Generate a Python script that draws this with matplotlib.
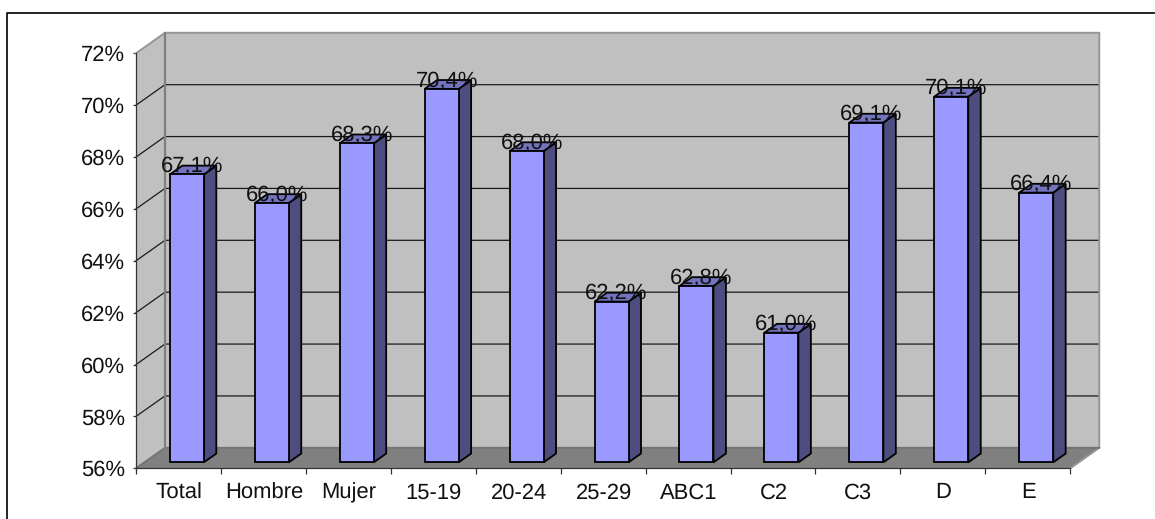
import matplotlib
matplotlib.use('Agg')  # no display needed
import matplotlib.pyplot as plt
from matplotlib.lines import Line2D
from matplotlib.patches import Polygon

categories = ['Total', 'Hombre', 'Mujer', '15-19', '20-24', '25-29',
              'ABC1', 'C2', 'C3', 'D', 'E']
values = [67.1, 66.0, 68.3, 70.4, 68.0, 62.2, 62.8, 61.0, 69.1, 70.1, 66.4]
y_ticks = [56, 58, 60, 62, 64, 66, 68, 70, 72]

W, H = 1155, 519
plt.rcParams['font.family'] = ['Liberation Sans', 'DejaVu Sans']
plt.rcParams['text.hinting'] = 'none'
plt.rcParams['text.hinting_factor'] = 1

# oblique 3D look: how far the back wall is shifted, in data units
DEPTH_X = 0.341
DEPTH_Y = 0.79
BAR_WIDTH = 0.40
BAR_FRONT = 0.29
BAR_BACK = 0.72
FONT = 15.6
LABEL_FONT = 15.9


def proj(x, y, d):
    return (x + d * DEPTH_X, y + d * DEPTH_Y)


def face(ax, pts, color, edge='none', lw=0, z=1):
    ax.add_patch(Polygon(pts, closed=True, facecolor=color, edgecolor=edge,
                         linewidth=lw, zorder=z, clip_on=False,
                         joinstyle='miter'))


fig = plt.figure(figsize=(W / 100, H / 100), dpi=100, facecolor='white')
ax = fig.add_axes([136 / W, 1 - 468.3 / H, 934.3 / W, 415 / H])
ax.set_xlim(0, len(categories))
ax.set_ylim(y_ticks[0], y_ticks[-1])
ax.patch.set_visible(False)

lo, hi = y_ticks[0], y_ticks[-1]
n = len(categories)

# walls and floor
face(ax, [proj(0, lo, 1), proj(n, lo, 1), proj(n, hi, 1), proj(0, hi, 1)], '#c0c0c0', z=1)
face(ax, [proj(0, lo, 0), proj(0, lo, 1), proj(0, hi, 1), proj(0, hi, 0)], '#c0c0c0', z=1)
face(ax, [proj(0, lo, 0), proj(n, lo, 0), proj(n, lo, 1), proj(0, lo, 1)], '#808080', z=1)

# grid on side wall and back wall
for v in y_ticks[1:-1]:
    xs, ys = zip(proj(0, v, 0), proj(0, v, 1), proj(n, v, 1))
    ax.plot(xs, ys, color='#1a1a1a', lw=0.9, zorder=2, clip_on=False)

# wall outlines
xs, ys = zip(proj(0, hi, 0), proj(0, hi, 1), proj(n, hi, 1), proj(n, lo, 1), proj(n, lo, 0))
ax.plot(xs, ys, color='#969696', lw=1.4, zorder=3, clip_on=False)
xs, ys = zip(proj(0, lo, 0), proj(0, lo, 1), proj(n, lo, 1))
ax.plot(xs, ys, color='#747474', lw=1.4, zorder=3, clip_on=False)
xs, ys = zip(proj(0, lo, 1), proj(0, hi, 1))
ax.plot(xs, ys, color='#808080', lw=1.6, zorder=3, clip_on=False)

# bars
for i, v in enumerate(values):
    left = i + 0.5 - BAR_WIDTH / 2
    right = i + 0.5 + BAR_WIDTH / 2
    z = 4 + i * 0.01
    face(ax, [proj(right, lo, BAR_FRONT), proj(right, lo, BAR_BACK),
              proj(right, v, BAR_BACK), proj(right, v, BAR_FRONT)],
         '#4d4d80', 'black', 1.3, z)
    face(ax, [proj(left, v, BAR_FRONT), proj(right, v, BAR_FRONT),
              proj(right, v, BAR_BACK), proj(left, v, BAR_BACK)],
         '#7373bf', 'black', 1.3, z)
    face(ax, [proj(left, lo, BAR_FRONT), proj(right, lo, BAR_FRONT),
              proj(right, v, BAR_FRONT), proj(left, v, BAR_FRONT)],
         '#9999ff', 'black', 1.3, z)

# value labels sit across the top of each bar
for i, v in enumerate(values):
    ax.annotate(f'{v:.1f}'.replace('.', ',') + '%', xy=proj(i + 0.5, v, BAR_FRONT),
                xytext=(3.6, 5.6), textcoords='offset points', ha='center', va='center',
                fontsize=LABEL_FONT, color='#111111', zorder=6, annotation_clip=False)

# axes
ax.set_yticks(y_ticks)
ax.set_yticklabels([f'{t}%' for t in y_ticks], fontsize=FONT, color='#111111')
ax.set_xticks(range(n + 1))
ax.set_xticklabels([''] * (n + 1))
ax.tick_params(axis='y', length=2.5, width=0.9, color='#333333', pad=5.5)
ax.tick_params(axis='x', length=4.5, width=0.9, color='#333333')
for i, name in enumerate(categories):
    ax.annotate(name, xy=(i + 0.5, lo), xytext=(0.3, -17.5), textcoords='offset points',
                ha='center', va='center', fontsize=FONT, color='#111111', annotation_clip=False)
for side in ['top', 'right']:
    ax.spines[side].set_visible(False)
for side in ['left', 'bottom']:
    ax.spines[side].set_color('#333333')
    ax.spines[side].set_linewidth(0.9)
    ax.spines[side].set_zorder(3.5)

# frame around the chart, open at the right and bottom
fig.add_artist(Line2D([6.5 / W, 6.5 / W, 1], [0, 1 - 12.5 / H, 1 - 12.5 / H],
                      color='black', lw=1.2, transform=fig.transFigure))

fig.savefig('out.png', dpi=100, facecolor='white')
plt.close()
